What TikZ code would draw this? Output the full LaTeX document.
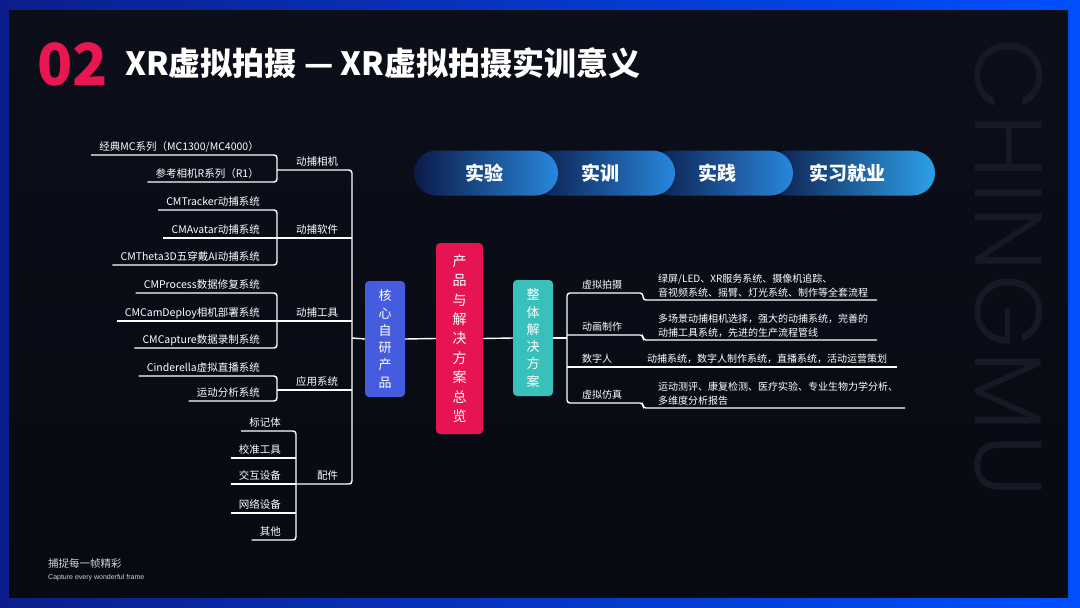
\documentclass[tikz,border=0pt]{standalone}
\usepackage{fontspec}
\setmainfont{Noto Sans CJK SC}
\IfFontExistsTF{Poppins Light}{\newfontfamily\wmfont{Poppins Light}[LetterSpace=3]}{\newfontfamily\wmfont{Poppins}[LetterSpace=3]}
\newfontfamily\arialfont{Liberation Sans}
\usetikzlibrary{calc}
\definecolor{bordL}{RGB}{12,30,140}
\definecolor{bordR}{RGB}{0,80,255}
\definecolor{bgTop}{RGB}{12,15,26}
\definecolor{bgBot}{RGB}{7,10,18}
\definecolor{numred}{RGB}{232,23,80}
\definecolor{coreblue}{RGB}{70,92,222}
\definecolor{maincrim}{RGB}{230,20,82}
\definecolor{solteal}{RGB}{58,192,186}
\definecolor{pillL}{RGB}{12,26,72}
\definecolor{pillR}{RGB}{40,135,220}
\definecolor{pillR4}{RGB}{45,160,232}
\definecolor{wmcol}{RGB}{22,26,37}
\definecolor{footgray}{RGB}{205,210,220}
\tikzset{
  conn/.style={draw=white, line width=1.4pt, rounded corners=3pt},
  lbl/.style={inner sep=0pt, text=white, font=\fontsize{10.5}{14}\selectfont},
  rlbl/.style={inner sep=0pt, text=white, font=\fontsize{10}{14}\selectfont},
  desc/.style={inner sep=0pt, text=white, align=left, font=\fontsize{10}{14}\selectfont},
  vbox/.style={rounded corners=4pt, text=white, inner sep=0pt, align=center},
  pill/.style={rounded corners=22.5pt, minimum height=45pt, inner sep=0pt, text=white,
    font=\fontsize{19}{22}\bfseries, left color=pillL, right color=pillR}
}
\begin{document}
\begin{tikzpicture}[x=1pt,y=-1pt]
\useasboundingbox (0,0) rectangle (1080,608);
% frame
\shade[left color=bordL, right color=bordR] (0,0) rectangle (1080,608);
\shade[top color=bgTop, bottom color=bgBot] (9,10) rectangle (1068,597);
% watermark
\node[rotate=-90, text=wmcol, font=\wmfont\fontsize{95}{95}\selectfont, inner sep=0pt] (wm) at (1009,268) {CHINGMU};
% header
\node[anchor=base west, inner sep=0pt, text=numred, font=\fontsize{58}{60}\bfseries] (num) at (37,85) {02};
\node[anchor=base west, inner sep=0pt, text=white, font=\fontsize{32}{36}\bfseries] (title) at (125,75) {XR虚拟拍摄 — XR虚拟拍摄实训意义};
% footer
\node[anchor=base west, inner sep=0pt, text=footgray, font=\fontsize{10.5}{12}\selectfont] (f1) at (48,567) {捕捉每一帧精彩};
\node[anchor=base west, inner sep=0pt, text=footgray, font=\arialfont\fontsize{7}{8}\selectfont] (f2) at (48,579) {Capture every wonderful frame};
% pills
\node[pill, minimum width=170pt, right color=pillR4] (p4) at (850,173) {\hspace*{-6pt}实习就业};
\node[pill, minimum width=145pt] (p3) at (720.5,173) {\hspace*{-6pt}实践};
\node[pill, minimum width=145pt] (p2) at (602.5,173) {\hspace*{-5pt}实训};
\node[pill, minimum width=144pt] (p1) at (486,173) {\hspace*{-4pt}实验};
% center boxes
\node[vbox, fill=coreblue, minimum width=40pt, minimum height=116pt, font=\fontsize{13}{17.3}\selectfont] (core) at (385,339) {核\\心\\自\\研\\产\\品};
\node[vbox, fill=maincrim, minimum width=47pt, minimum height=191pt, font=\fontsize{14}{19.4}\selectfont] (main) at (459.5,338.5) {产\\品\\与\\解\\决\\方\\案\\总\\览};
\node[vbox, fill=solteal, minimum width=40pt, minimum height=116pt, font=\fontsize{13}{17.3}\selectfont] (sol) at (533,338) {整\\体\\解\\决\\方\\案};
% left tree nodes
\node[lbl, anchor=base east] (a1) at (259,150) {经典MC系列（MC1300/MC4000）};
\node[lbl, anchor=base east] (a2) at (259,177) {参考相机R系列（R1）};
\node[lbl, anchor=base west] (ga) at (296,165) {动捕相机};
\node[lbl, anchor=base east] (b1) at (260,205) {CMTracker动捕系统};
\node[lbl, anchor=base east] (b2) at (260,233) {CMAvatar动捕系统};
\node[lbl, anchor=base east] (b3) at (260,260) {CMTheta3D五穿戴AI动捕系统};
\node[lbl, anchor=base west] (gb) at (296,233) {动捕软件};
\node[lbl, anchor=base east] (c1) at (260,288) {CMProcess数据修复系统};
\node[lbl, anchor=base east] (c2) at (260,316) {CMCamDeploy相机部署系统};
\node[lbl, anchor=base east] (c3) at (260,343) {CMCapture数据录制系统};
\node[lbl, anchor=base west] (gc) at (296,316) {动捕工具};
\node[lbl, anchor=base east] (d1) at (260,371) {Cinderella虚拟直播系统};
\node[lbl, anchor=base east] (d2) at (260,396) {运动分析系统};
\node[lbl, anchor=base west] (gd) at (296,385) {应用系统};
\node[lbl, anchor=base east] (e1) at (281,426) {标记体};
\node[lbl, anchor=base east] (e2) at (281,453) {校准工具};
\node[lbl, anchor=base east] (e3) at (281,479) {交互设备};
\node[lbl, anchor=base east] (e4) at (281,508) {网络设备};
\node[lbl, anchor=base east] (e5) at (281,535) {其他};
\node[lbl, anchor=base west] (ge) at (317,479) {配件};
% left tree connectors
\draw[conn] ($(a1.base west)+(-8,5)$) -- (277,155) -- (277,182) -- ($(a2.base west)+(-8,5)$);
\draw[conn] ($(b1.base west)+(-8,5)$) -- (277,210) -- (277,265) -- ($(b3.base west)+(-8,5)$);
\draw[conn] ($(b2.base west)+(-8,5)$) -- (352,238);
\draw[conn] ($(c1.base west)+(-8,5)$) -- (277,293) -- (277,348) -- ($(c3.base west)+(-8,5)$);
\draw[conn] ($(c2.base west)+(-8,5)$) -- (352,321);
\draw[conn] ($(d1.base west)+(-8,5)$) -- (277,376) -- (277,401) -- ($(d2.base west)+(-8,5)$);
\draw[conn] (277,390) -- (352,390);
\draw[conn] ($(e1.base west)+(-8,5)$) -- (296,431) -- (296,540) -- ($(e5.base west)+(-8,5)$);
\draw[conn] ($(e2.base west)+(-8,5)$) -- (296,458);
\draw[conn] ($(e3.base west)+(-8,5)$) -- (296,484);
\draw[conn] ($(e4.base west)+(-8,5)$) -- (296,513);
\draw[conn] (277,170) -- (352,170) -- (352,484) -- (296,484);
\draw[conn] (352,338) -- (core.west);
\draw[conn] (core.east) -- (main.west);
\draw[conn] (main.east) -- (sol.west);
% right side nodes
\node[rlbl, anchor=base west] (r1) at (582,288) {虚拟拍摄};
\node[desc, anchor=base west] (s1) at (658,296) {绿屏/LED、XR服务系统、摄像机追踪、\\音视频系统、摇臂、灯光系统、制作等全套流程};
\node[rlbl, anchor=base west] (r2) at (582,330) {动画制作};
\node[desc, anchor=base west] (s2) at (658,336) {多场景动捕相机选择，强大的动捕系统，完善的\\动捕工具系统，先进的生产流程管线};
\node[rlbl, anchor=base west] (r3) at (582,362) {数字人};
\node[rlbl, anchor=base west] (s3) at (647,362) {动捕系统，数字人制作系统，直播系统，活动运营策划};
\node[rlbl, anchor=base west] (r4) at (582,398) {虚拟仿真};
\node[desc, anchor=base west] (s4) at (658,404) {运动测评、康复检测、医疗实验、专业生物力学分析、\\多维度分析报告};
\coordinate (e1r) at (877,300);
\coordinate (e2r) at (877,340);
\coordinate (e3r) at (897,367);
\coordinate (e4r) at (905,408);
\draw[conn] (sol.east) -- (567,338);
\draw[conn] (e1r) -- (643,300) -- (643,293) -- (567,293) -- (567,403) -- (643,403) -- (643,408) -- (e4r);
\draw[conn] (567,335) -- (643,335) -- (643,340) -- (e2r);
\draw[conn] (567,367) -- (e3r);
\end{tikzpicture}
\end{document}
